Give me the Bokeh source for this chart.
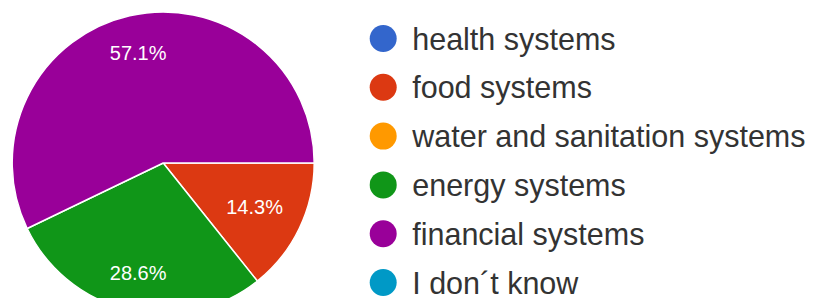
import math
from bokeh.plotting import figure
from bokeh.models import Range1d, ColumnDataSource
from bokeh.core.properties import value
from bokeh.embed import file_html
from bokeh.resources import INLINE

# ---- data ----
categories = ["health systems", "food systems", "water and sanitation systems",
              "energy systems", "financial systems", "I don\u00b4t know"]
counts = [0, 1, 0, 2, 4, 0]
colors = ["#3366cc", "#dc3912", "#ff9900", "#109618", "#990099", "#0099c6"]

# ---- layout ----
W, H = 809, 298
p = figure(width=W, height=H, output_backend="svg", toolbar_location=None,
           x_range=Range1d(0, W), y_range=Range1d(0, H),
           x_axis_type=None, y_axis_type=None, min_border=0)
p.outline_line_color = None
p.grid.visible = False
p.background_fill_color = "white"

cx, cy, R = 162.7, 135.5, 151.0
total = sum(counts)

# wedges, clockwise from 3 o'clock
starts, ends, wcols, lx, ly, labels = [], [], [], [], [], []
cum = 0.0
hw, hh, D = 28.0, 10.0, 131.0
for cat, n, col in zip(categories, counts, colors):
    if n == 0:
        continue
    frac = n / total
    a0 = -2 * math.pi * cum
    a1 = -2 * math.pi * (cum + frac)
    starts.append(a1)
    ends.append(a0)
    wcols.append(col)
    mid = (a0 + a1) / 2
    c, s = math.cos(mid), math.sin(mid)
    b = abs(c) * hw + abs(s) * hh
    r = -b + math.sqrt(b * b - (hw * hw + hh * hh - D * D))
    lx.append(cx + r * c)
    ly.append(cy + r * s)
    labels.append(f"{frac * 100:.1f}%")
    cum += frac

src = ColumnDataSource(dict(start=starts, end=ends, color=wcols))
p.wedge(x=cx, y=cy, radius=R, start_angle="start", end_angle="end",
        direction="anticlock", fill_color="color", line_color="white",
        line_width=1.5, source=src)

p.text(x=lx, y=ly, text=labels, text_color="white",
       text_font=value("Liberation Sans"), text_font_size="20px",
       text_align="center", text_baseline="middle")

# legend
lg_x, lg_tx, lg_y0, lg_dy = 382.7, 411.7, 260.0, 48.8
ys = [lg_y0 - i * lg_dy for i in range(len(categories))]
p.scatter(x=[lg_x] * len(categories), y=ys, size=27, marker="circle",
          fill_color=colors, line_color=None)
p.text(x=[lg_tx] * len(categories), y=ys, text=categories, text_color="#333333",
       text_font=value("Liberation Sans"), text_font_size="30.5px",
       text_align="left", text_baseline="middle")

open("out.html", "w").write(file_html(p, INLINE))
